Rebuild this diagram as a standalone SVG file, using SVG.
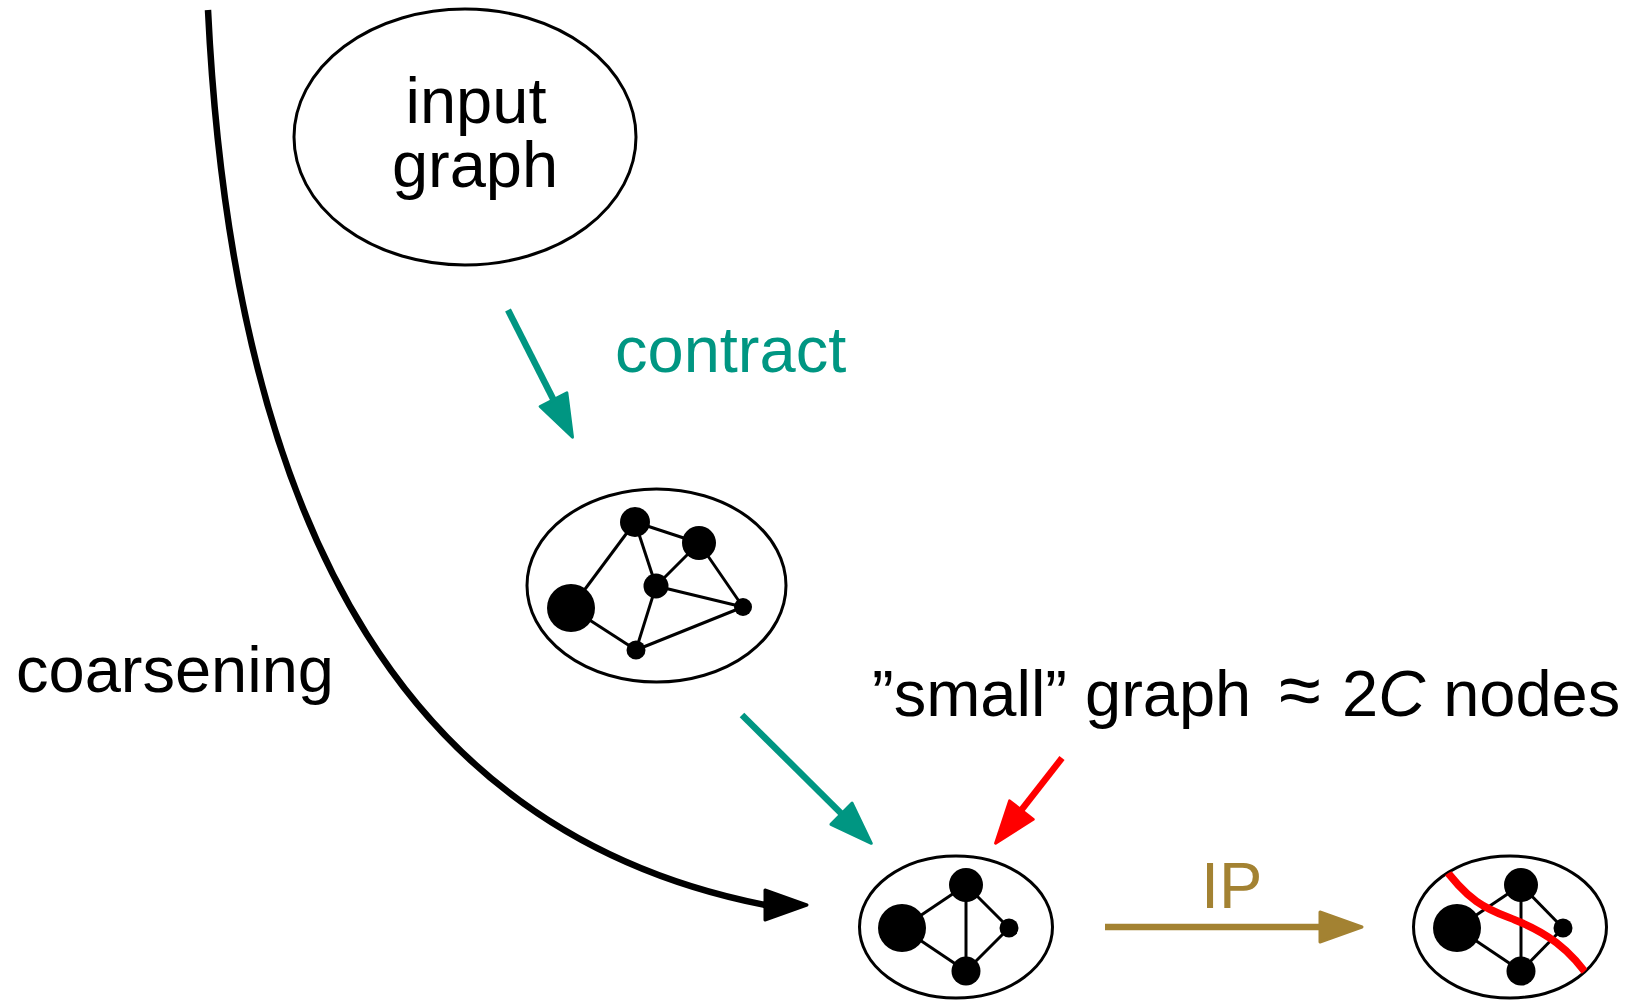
<svg xmlns="http://www.w3.org/2000/svg" width="1631" height="1000" viewBox="0 0 1631 1000">
  <style>
    text { font-family: "Liberation Sans", Arial, Helvetica, sans-serif; font-size: 65px; fill: #000; }
    .frame { fill: #fff; stroke: #000; stroke-width: 3; }
    .edge { stroke: #000; stroke-width: 3; fill: none; }
    .v { fill: #000; }
    .teal { stroke: #009682; }
    .gold { stroke: #A38232; }
    .red { stroke: #FF0000; }
    .conn { fill: none; stroke-width: 6.5; stroke-linecap: butt; }
  </style>
  <defs>
    <marker id="head-teal" markerUnits="userSpaceOnUse" orient="auto" refX="0" refY="0" markerWidth="60" markerHeight="40" overflow="visible">
      <path d="M0,-15 L42,0 L0,15 Z" fill="#009682" stroke="#009682" stroke-width="3" stroke-linejoin="round"/>
    </marker>
    <marker id="head-red" markerUnits="userSpaceOnUse" orient="auto" refX="0" refY="0" markerWidth="60" markerHeight="40" overflow="visible">
      <path d="M0,-15 L42,0 L0,15 Z" fill="#FF0000" stroke="#FF0000" stroke-width="3" stroke-linejoin="round"/>
    </marker>
    <marker id="head-gold" markerUnits="userSpaceOnUse" orient="auto" refX="0" refY="0" markerWidth="60" markerHeight="40" overflow="visible">
      <path d="M0,-15 L42,0 L0,15 Z" fill="#A38232" stroke="#A38232" stroke-width="3" stroke-linejoin="round"/>
    </marker>
    <marker id="head-black" markerUnits="userSpaceOnUse" orient="0" refX="0" refY="0" markerWidth="60" markerHeight="40" overflow="visible">
      <path d="M0,-15 L42,0 L0,15 Z" fill="#000" stroke="#000" stroke-width="3" stroke-linejoin="round"/>
    </marker>
    <clipPath id="cut-clip">
      <ellipse cx="1510" cy="927" rx="96" ry="70.5"/>
    </clipPath>
  </defs>

  <!-- input graph -->
  <g id="input-graph">
    <ellipse class="frame" cx="465" cy="137" rx="171" ry="128"/>
    <text x="476" y="123" text-anchor="middle">input</text>
    <text x="475" y="187" text-anchor="middle">graph</text>
  </g>

  <!-- contracted graph -->
  <g id="coarse-graph">
    <ellipse class="frame" cx="656.5" cy="585.5" rx="129.5" ry="96.5"/>
    <g class="edge">
      <line x1="635" y1="522" x2="571" y2="608"/>
      <line x1="635" y1="522" x2="699" y2="543"/>
      <line x1="635" y1="522" x2="656" y2="586"/>
      <line x1="699" y1="543" x2="656" y2="586"/>
      <line x1="699" y1="543" x2="743" y2="607"/>
      <line x1="656" y1="586" x2="743" y2="607"/>
      <line x1="656" y1="586" x2="636" y2="650"/>
      <line x1="571" y1="608" x2="636" y2="650"/>
      <line x1="636" y1="650" x2="743" y2="607"/>
    </g>
    <circle class="v" cx="635" cy="522" r="15"/>
    <circle class="v" cx="699" cy="543" r="17"/>
    <circle class="v" cx="656" cy="586" r="12.5"/>
    <circle class="v" cx="743" cy="607" r="9"/>
    <circle class="v" cx="571" cy="608" r="24"/>
    <circle class="v" cx="636" cy="650" r="9.5"/>
  </g>

  <!-- small graph -->
  <g id="small-graph">
    <ellipse class="frame" cx="956" cy="927" rx="96.5" ry="71"/>
    <g class="edge">
      <line x1="902" y1="928" x2="966" y2="885"/>
      <line x1="902" y1="928" x2="966" y2="971"/>
      <line x1="966" y1="885" x2="966" y2="971"/>
      <line x1="966" y1="885" x2="1009" y2="928"/>
      <line x1="1009" y1="928" x2="966" y2="971"/>
    </g>
    <circle class="v" cx="902" cy="928" r="24"/>
    <circle class="v" cx="966" cy="885" r="17"/>
    <circle class="v" cx="1009" cy="928" r="9.5"/>
    <circle class="v" cx="966" cy="971" r="14.5"/>
  </g>

  <!-- partitioned small graph -->
  <g id="partitioned-graph">
    <ellipse class="frame" cx="1510" cy="927" rx="96.5" ry="71"/>
    <g class="edge">
      <line x1="1457" y1="928" x2="1521" y2="885"/>
      <line x1="1457" y1="928" x2="1521" y2="971"/>
      <line x1="1521" y1="885" x2="1521" y2="971"/>
      <line x1="1521" y1="885" x2="1563" y2="928"/>
      <line x1="1563" y1="928" x2="1521" y2="971"/>
    </g>
    <circle class="v" cx="1457" cy="928" r="24"/>
    <circle class="v" cx="1521" cy="885" r="17"/>
    <circle class="v" cx="1563" cy="928" r="9.5"/>
    <circle class="v" cx="1521" cy="971" r="14.5"/>
    <path d="M1440,862 C1470,905 1490,910 1515,920 C1545,932 1570,948 1592,982" fill="none" stroke="#FF0000" stroke-width="7.5" clip-path="url(#cut-clip)"/>
  </g>

  <!-- connectors -->
  <g id="connectors">
    <path class="conn" d="M208,10 C234,550 420,837 765,905" stroke="#000" style="stroke-width:6.5" marker-end="url(#head-black)"/>
    <line class="conn teal" x1="508" y1="310" x2="553.5" y2="399.7" marker-end="url(#head-teal)"/>
    <line class="conn teal" x1="742" y1="715" x2="841.5" y2="813.7" marker-end="url(#head-teal)"/>
    <line class="conn red" x1="1062" y1="758" x2="1021.4" y2="810.1" marker-end="url(#head-red)"/>
    <line class="conn gold" x1="1105" y1="927" x2="1320" y2="927" marker-end="url(#head-gold)"/>
  </g>

  <!-- labels -->
  <g id="labels">
    <text x="615" y="372" style="fill:#009682">contract</text>
    <text x="16" y="692">coarsening</text>
    <text x="872" y="716">”small” graph <tspan x="1279" font-size="76">≈</tspan><tspan x="1342">2<tspan font-style="italic">C</tspan> nodes</tspan></text>
    <text x="1201" y="908" style="fill:#A38232">IP</text>
  </g>
</svg>
